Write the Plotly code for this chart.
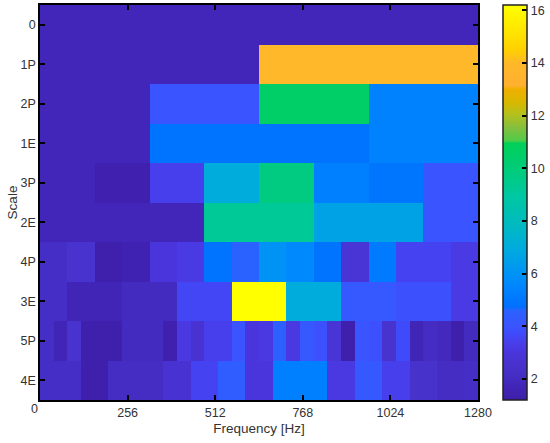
import plotly.graph_objects as go

scales = ["0", "1P", "2P", "1E", "3P", "2E", "4P", "3E", "5P", "4E"]
freq_centers = [20 + 40 * i for i in range(32)]
freq_ticks = [0, 256, 512, 768, 1024, 1280]
freq_labels = ["", "256", "512", "768", "1024", "1280"]

row_0 = [1.8] * 32
row_1p = [1.8] * 16 + [14.0] * 16
row_2p = [1.8] * 8 + [4.0] * 8 + [10.5] * 8 + [5.4] * 8
row_1e = [1.8] * 8 + [4.85] * 16 + [5.4] * 8
row_3p = [1.8] * 4 + [1.4] * 4 + [3.4] * 4 + [7.0] * 4 + [9.8] * 4 + [5.3] * 4 + [4.95] * 4 + [4.0] * 4
row_2e = [1.8] * 12 + [9.2] * 8 + [6.6] * 8 + [4.0] * 4
row_4p = [2.2, 2.2, 2.6, 2.6, 1.3, 1.3, 1.5, 1.5, 3.0, 3.0, 3.2, 3.2, 4.9, 4.9, 4.6, 4.6,
          6.0, 6.0, 5.6, 5.6, 4.9, 4.9, 2.8, 2.8, 5.1, 5.1, 3.5, 3.5, 3.5, 3.5, 3.2, 3.2]
row_3e = [2.2, 2.2, 1.7, 1.7, 1.7, 1.7, 2.0, 2.0, 2.0, 2.0, 3.6, 3.6, 3.6, 3.6, 16.2, 16.2,
          16.2, 16.2, 7.0, 7.0, 7.0, 7.0, 4.2, 4.2, 4.2, 4.2, 3.9, 3.9, 3.9, 3.9, 3.2, 3.2]
row_5p = [2.2, 1.7, 2.6, 1.3, 1.3, 1.3, 2.0, 2.0, 2.0, 1.4, 3.1, 2.7, 3.4, 3.4, 4.0, 3.0,
          3.1, 4.5, 3.1, 4.2, 3.9, 2.8, 1.3, 4.0, 3.9, 2.6, 3.7, 1.7, 2.1, 1.9, 1.3, 2.0]
row_4e = [2.2, 2.2, 2.2, 1.3, 1.3, 2.1, 2.1, 2.1, 2.1, 2.7, 2.7, 3.5, 3.5, 4.4, 4.4, 3.0,
          3.0, 5.3, 5.3, 5.3, 5.3, 3.1, 3.1, 4.2, 4.2, 3.4, 3.4, 2.5, 2.5, 2.1, 2.1, 2.2]
z_rows = [row_0, row_1p, row_2p, row_1e, row_3p, row_2e, row_4p, row_3e, row_5p, row_4e]

z_min, z_max = 1.2, 16.2
stops = [
    (1.2, "#3c1a9e"), (1.3, "#3f20ac"), (1.8, "#4226ba"), (2.0, "#442bc0"), (2.5, "#4732cc"),
    (3.0, "#4a35dc"), (3.4, "#483fec"), (3.7, "#3f4afa"), (4.0, "#3a54ff"), (4.6, "#2a62ff"),
    (4.75, "#0070ff"), (5.5, "#0085ff"),
    (6.0, "#0093f5"), (7.0, "#00acdc"), (8.0, "#00bcbc"), (9.0, "#00c8a0"),
    (10.0, "#00cc78"), (10.95, "#00d058"), (11.05, "#50cc48"), (11.5, "#80c040"),
    (12.0, "#b0c020"), (12.5, "#d8b800"), (13.0, "#f0b000"), (13.15, "#ffb030"),
    (14.0, "#ffb829"), (14.5, "#ffd000"), (15.0, "#ffe000"), (16.2, "#ffff00"),
]
colorscale = [[(v - z_min) / (z_max - z_min), c] for v, c in stops]

font = "Liberation Sans"
fig = go.Figure(go.Heatmap(
    x=freq_centers, y=list(range(len(scales))), z=z_rows,
    colorscale=colorscale, zmin=z_min, zmax=z_max, xgap=0, ygap=0,
    colorbar=dict(
        thickness=24, thicknessmode="pixels", len=1, lenmode="fraction",
        x=(503.5 - 40) / 438, xanchor="left",
        y=0.5, yanchor="middle", ypad=0, xpad=0,
        tickvals=[2, 4, 6, 8, 10, 12, 14, 16], ticks="inside", ticklen=5, tickwidth=1.5,
        tickcolor="#000000", outlinecolor="#222222", outlinewidth=1.5,
        tickfont=dict(family=font, size=12.5, color="#333333"),
    ),
))
axis_style = dict(showline=True, mirror="ticks", linecolor="#000000", linewidth=1.5, layer="above traces",
                  ticks="inside", ticklen=5, tickwidth=1.5, tickcolor="#000000", showgrid=False, zeroline=False,
                  tickfont=dict(family=font, size=12.5, color="#333333"))
fig.update_xaxes(range=[0, 1280], tickvals=freq_ticks, ticktext=freq_labels,
                 title=dict(text="Frequency [Hz]", font=dict(family=font, size=13.5, color="#333333"), standoff=5),
                 **axis_style)
fig.update_yaxes(range=[9.5, -0.5], tickvals=list(range(len(scales))), ticktext=scales,
                 title=dict(text="Scale", font=dict(family=font, size=13.5, color="#333333"), standoff=0),
                 **axis_style)
fig.add_annotation(text="0", x=0, y=0, xref="x", yref="paper", xshift=-6, yshift=-18,
                   showarrow=False, font=dict(family=font, size=12.5, color="#333333"))
fig.update_layout(width=550, height=443, paper_bgcolor="white", plot_bgcolor="white",
                  margin=dict(l=40, r=72, t=5, b=43, autoexpand=False))
fig.write_html("out.html", post_script="document.body.style.margin='0';",
               config={"displayModeBar": False})
